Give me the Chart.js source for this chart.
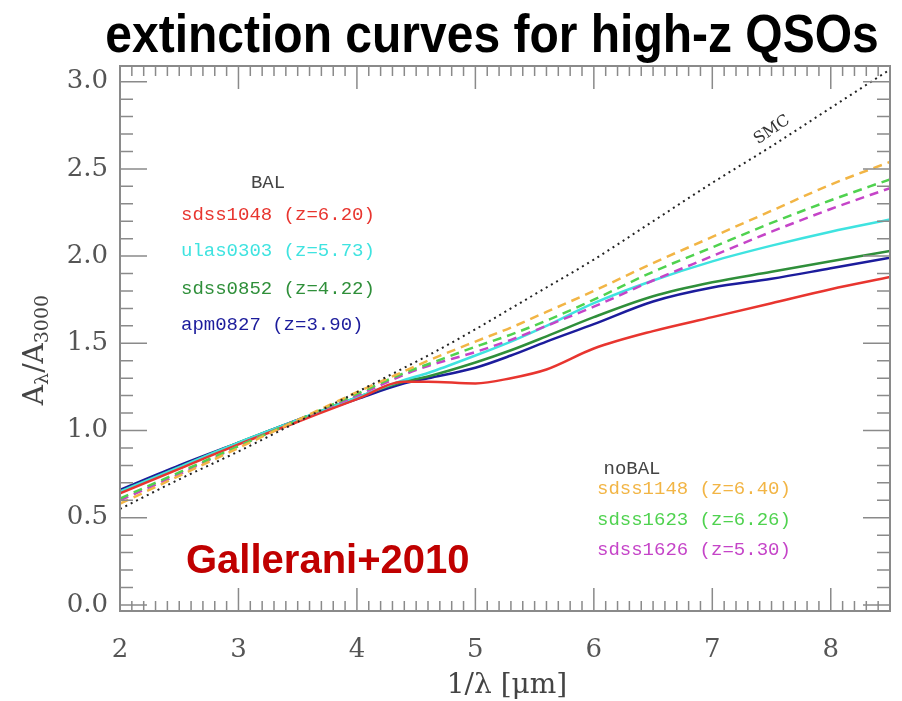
<!DOCTYPE html>
<html>
<head>
<meta charset="utf-8">
<script src="https://cdn.jsdelivr.net/npm/chart.js@4.4.1/dist/chart.umd.min.js"></script>
<style>
  html, body { margin: 0; padding: 0; background: #ffffff; }
  #wrap { width: 902px; height: 701px; position: relative; }
</style>
</head>
<body>
<div id="wrap"><canvas id="c" width="902" height="701"></canvas></div>
<script>
// Inverse wavelength grid (1/lambda, micron^-1)
const invLambda = [2.0, 2.5, 3.0, 3.5, 4.0, 4.4, 4.6, 5.0, 5.3, 5.6, 6.0, 6.5, 7.0, 7.5, 8.0, 8.5];

// BAL quasars: A_lambda / A_3000
const sdss1048 = [0.64, 0.78, 0.92, 1.05, 1.18, 1.28, 1.28, 1.27, 1.30, 1.35, 1.47, 1.57, 1.65, 1.73, 1.81, 1.88];
const ulas0303 = [0.65, 0.79, 0.93, 1.06, 1.19, 1.29, 1.33, 1.43, 1.51, 1.60, 1.73, 1.86, 1.97, 2.06, 2.14, 2.21];
const sdss0852 = [0.65, 0.79, 0.93, 1.06, 1.19, 1.28, 1.31, 1.39, 1.46, 1.54, 1.65, 1.77, 1.85, 1.91, 1.97, 2.03];
const apm0827  = [0.66, 0.80, 0.93, 1.06, 1.18, 1.27, 1.30, 1.36, 1.43, 1.51, 1.61, 1.74, 1.82, 1.87, 1.93, 1.99];

// non-BAL quasars
const sdss1148 = [0.58, 0.74, 0.90, 1.06, 1.22, 1.34, 1.40, 1.51, 1.59, 1.68, 1.80, 1.96, 2.11, 2.26, 2.41, 2.54];
const sdss1623 = [0.61, 0.76, 0.91, 1.06, 1.21, 1.33, 1.38, 1.48, 1.55, 1.63, 1.75, 1.91, 2.05, 2.19, 2.32, 2.44];
const sdss1626 = [0.60, 0.75, 0.91, 1.06, 1.20, 1.32, 1.37, 1.45, 1.52, 1.60, 1.71, 1.86, 2.00, 2.14, 2.27, 2.39];

// SMC reference curve
const smc = [0.55, 0.72, 0.88, 1.05, 1.22, 1.36, 1.43, 1.58, 1.70, 1.82, 1.98, 2.20, 2.42, 2.63, 2.85, 3.07];

const xTicks = [2, 3, 4, 5, 6, 7, 8];
const yTicks = [0.0, 0.5, 1.0, 1.5, 2.0, 2.5, 3.0];

const balLabels   = ['sdss1048 (z=6.20)', 'ulas0303 (z=5.73)', 'sdss0852 (z=4.22)', 'apm0827 (z=3.90)'];
const noBalLabels = ['sdss1148 (z=6.40)', 'sdss1623 (z=6.26)', 'sdss1626 (z=5.30)'];

const RED = '#e8352f', CYAN = '#3fe3e0', DKGREEN = '#2f8f3a', BLUE = '#1c1c9c';
const ORANGE = '#f2b545', LTGREEN = '#4fd24f', MAGENTA = '#c544c8';

function pts(ys) { return invLambda.map((x, i) => ({ x: x, y: ys[i] })); }

function ds(label, ys, color, dash, width) {
  return {
    label: label, data: pts(ys), borderColor: color, backgroundColor: color,
    borderWidth: width || 2.5, borderDash: dash || [], pointRadius: 0,
    fill: false, cubicInterpolationMode: 'monotone'
  };
}

const datasets = [
  ds('SMC', smc, '#222222', [2, 4], 2),
  ds(noBalLabels[0], sdss1148, ORANGE, [9, 6]),
  ds(noBalLabels[1], sdss1623, LTGREEN, [9, 6]),
  ds(noBalLabels[2], sdss1626, MAGENTA, [9, 6]),
  ds(balLabels[0], sdss1048, RED),
  ds(balLabels[1], ulas0303, CYAN),
  ds(balLabels[2], sdss0852, DKGREEN),
  ds(balLabels[3], apm0827, BLUE)
];

const SERIF = '"DejaVu Serif", "Liberation Serif", serif';
const MONO = '"Liberation Mono", "DejaVu Sans Mono", monospace';

// Frame with inward major/minor ticks on all four sides, plus annotations
const framePlugin = {
  id: 'frame',
  afterDraw(chart) {
    const ctx = chart.ctx, a = chart.chartArea;
    const xs = chart.scales.x, ys = chart.scales.y;
    ctx.save();
    ctx.strokeStyle = '#8a8a8a';
    ctx.lineWidth = 2;
    ctx.strokeRect(a.left, a.top, a.right - a.left, a.bottom - a.top);
    ctx.lineWidth = 1.5;
    ctx.beginPath();
    for (let i = 20; i <= 85; i++) {
      const v = i / 10, px = xs.getPixelForValue(v);
      if (px > a.right - 1) continue;
      const len = (i % 10 === 0) ? 23 : 10;
      ctx.moveTo(px, a.bottom); ctx.lineTo(px, a.bottom - len);
      ctx.moveTo(px, a.top); ctx.lineTo(px, a.top + len);
    }
    for (let i = 0; i <= 30; i++) {
      const v = i / 10, py = ys.getPixelForValue(v);
      const len = (i % 5 === 0) ? 27 : 13;
      ctx.moveTo(a.left, py); ctx.lineTo(a.left + len, py);
      ctx.moveTo(a.right, py); ctx.lineTo(a.right - len, py);
    }
    ctx.stroke();

    // Title
    ctx.save();
    ctx.fillStyle = '#000000';
    ctx.font = 'bold 48px "Liberation Sans", Arial, sans-serif';
    ctx.textAlign = 'center';
    ctx.textBaseline = 'alphabetic';
    ctx.translate(492, 52);
    ctx.scale(1, 1.1);
    ctx.fillText('extinction curves for high-z QSOs', 0, 0);
    ctx.restore();

    // Reference tag
    ctx.fillStyle = '#c00000';
    ctx.font = 'bold 40px "Liberation Sans", Arial, sans-serif';
    ctx.textAlign = 'left';
    ctx.textBaseline = 'middle';
    ctx.fillText('Gallerani+2010', 186, 562);

    // Legends
    ctx.font = '19px ' + MONO;
    ctx.fillStyle = '#444444';
    ctx.textAlign = 'center';
    ctx.fillText('BAL', 268, 183);
    ctx.textAlign = 'left';
    const balColors = [RED, CYAN, DKGREEN, BLUE];
    const balY = [215, 251, 289, 325];
    balLabels.forEach((t, i) => { ctx.fillStyle = balColors[i]; ctx.fillText(t, 181, balY[i]); });
    ctx.fillStyle = '#444444';
    ctx.textAlign = 'center';
    ctx.fillText('noBAL', 632, 469);
    ctx.textAlign = 'left';
    const nbColors = [ORANGE, LTGREEN, MAGENTA];
    const nbY = [489, 520, 550];
    noBalLabels.forEach((t, i) => { ctx.fillStyle = nbColors[i]; ctx.fillText(t, 597, nbY[i]); });

    // SMC label along its curve
    ctx.save();
    ctx.translate(772, 130);
    ctx.rotate(-34 * Math.PI / 180);
    ctx.fillStyle = '#333333';
    ctx.font = '16px ' + SERIF;
    ctx.textAlign = 'center';
    ctx.fillText('SMC', 0, 0);
    ctx.restore();

    // Axis titles
    ctx.fillStyle = '#444444';
    ctx.font = '28px ' + SERIF;
    ctx.textAlign = 'center';
    ctx.fillText('1/\u03bb [\u03bcm]', 507, 686);

    ctx.save();
    ctx.translate(36, 350);
    ctx.rotate(-Math.PI / 2);
    ctx.textAlign = 'left';
    const big = '28px ' + SERIF, small = '19px ' + SERIF;
    const parts = [['A', big, 0], ['\u03bb', small, 7], ['/A', big, 0], ['3000', small, 7]];
    let w = 0;
    parts.forEach(p => { ctx.font = p[1]; w += ctx.measureText(p[0]).width; });
    let cx = -w / 2;
    parts.forEach(p => { ctx.font = p[1]; ctx.fillText(p[0], cx, p[2]); cx += ctx.measureText(p[0]).width; });
    ctx.restore();

    ctx.restore();
  }
};

new Chart(document.getElementById('c'), {
  type: 'line',
  data: { datasets: datasets },
  options: {
    responsive: false,
    animation: false,
    layout: { padding: { left: 0, right: 12, top: 66, bottom: 0 } },
    plugins: { legend: { display: false }, tooltip: { enabled: false }, title: { display: false } },
    scales: {
      x: {
        type: 'linear', min: 2, max: 8.5,
        grid: { display: false, drawTicks: false },
        border: { display: false },
        afterFit(s) { s.height = 90; },
        afterBuildTicks(s) { s.ticks = xTicks.map(v => ({ value: v })); },
        ticks: { padding: 24, color: '#555555', font: { family: SERIF, size: 26 }, callback: v => String(v) }
      },
      y: {
        type: 'linear', min: -0.035, max: 3.09,
        grid: { display: false, drawTicks: false },
        border: { display: false },
        afterFit(s) { s.width = 120; },
        afterBuildTicks(s) { s.ticks = yTicks.map(v => ({ value: v })); },
        ticks: { padding: 12, color: '#555555', font: { family: SERIF, size: 26 }, callback: v => Number(v).toFixed(1) }
      }
    }
  },
  plugins: [framePlugin]
});
</script>
</body>
</html>
